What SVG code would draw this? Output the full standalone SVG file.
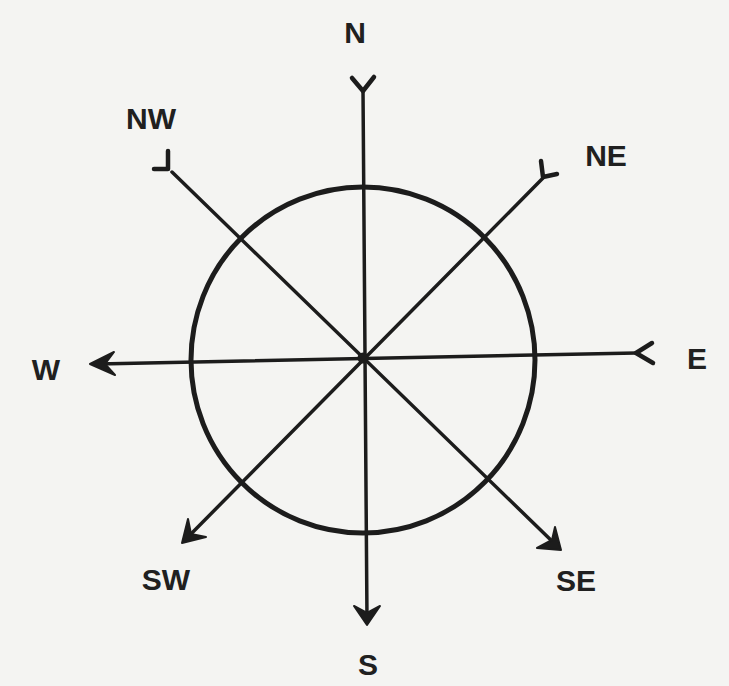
<svg xmlns="http://www.w3.org/2000/svg" width="729" height="686" viewBox="0 0 729 686">
<style>
.bg{fill:#f4f4f2}
.ring{fill:none;stroke:#1c1c1c;stroke-width:5}
.ln{fill:none;stroke:#1c1c1c;stroke-width:3.5;stroke-linecap:round;stroke-linejoin:round}
.tail{fill:none;stroke:#1c1c1c;stroke-width:4.5;stroke-linecap:round;stroke-linejoin:round}
.head{fill:#1c1c1c;stroke:#1c1c1c;stroke-width:2;stroke-linejoin:round}
.lbl{font-family:"Liberation Sans",Arial,sans-serif;font-weight:bold;font-size:30px;fill:#202020;text-anchor:middle}
</style>
<rect class="bg" width="729" height="686"/>
<g id="compass-ring"><ellipse class="ring" cx="363" cy="360" rx="172" ry="173"/></g>
<g id="connectors">
<path class="ln" d="M363,90 L367,620"/>
<path class="ln" d="M636,353 L98,364"/>
<path class="ln" d="M172,172 L556,545"/>
<path class="ln" d="M543,178 L187,538"/>
<circle cx="363" cy="358" r="5.5" fill="#1c1c1c"/>
<path class="tail" d="M352,78 L363,91 L374,77"/>
<path class="tail" d="M652,343 L636,353 L653,363"/>
<path class="tail" d="M168,151 L168,169 L154,169"/>
<path class="tail" d="M541,161 L543,177 L557,174"/>
<path class="head" d="M354,606 L367,625 L380,606 L367,613 Z"/>
<path class="head" d="M114,352 L90,364 L115,375 L105,364 Z"/>
<path class="head" d="M188,519 L182,543 L206,537 L191,534 Z"/>
<path class="head" d="M555,527 L561,550 L537,548 L552,540 Z"/>
</g>
<g id="N"><text class="lbl" x="355" y="43">N</text></g>
<g id="NW"><text class="lbl" x="151" y="129">NW</text></g>
<g id="NE"><text class="lbl" x="606" y="166">NE</text></g>
<g id="E"><text class="lbl" x="697" y="369">E</text></g>
<g id="W"><text class="lbl" x="46" y="380">W</text></g>
<g id="SW"><text class="lbl" x="166" y="590">SW</text></g>
<g id="S"><text class="lbl" x="368" y="675">S</text></g>
<g id="SE"><text class="lbl" x="576" y="591">SE</text></g>
</svg>
